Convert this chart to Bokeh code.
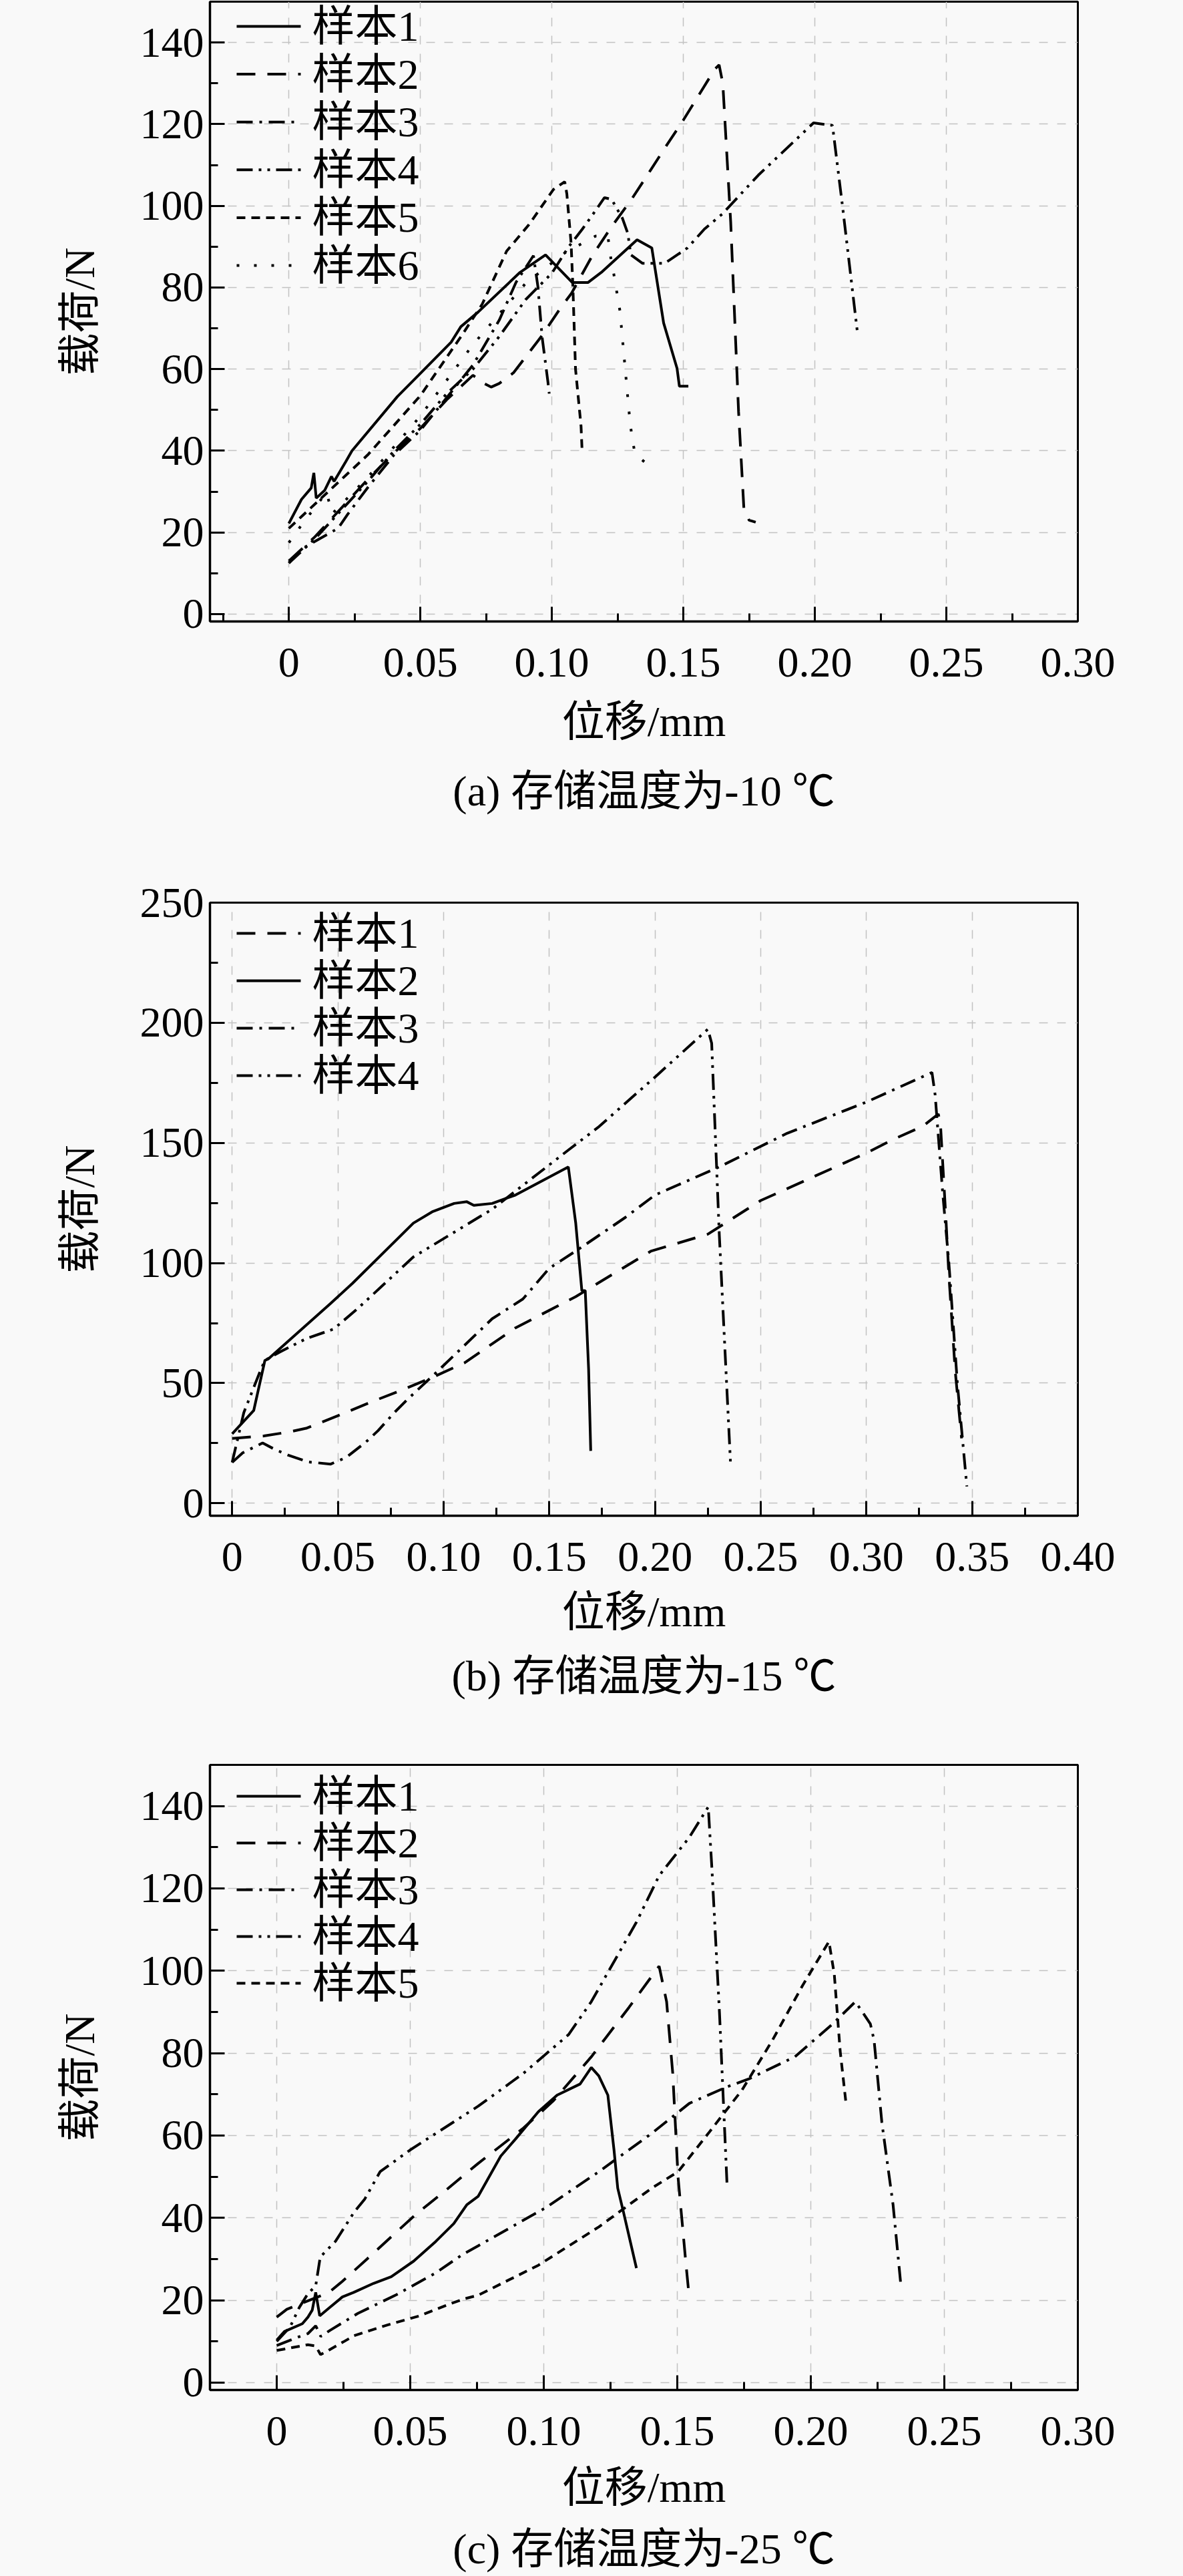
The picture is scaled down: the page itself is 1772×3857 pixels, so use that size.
from bokeh.plotting import figure
from bokeh.layouts import column
from bokeh.models import FixedTicker, CustomJSTickFormatter, Range1d, Label, Title
from bokeh.embed import file_html
from bokeh.resources import INLINE

FONT = "Liberation Serif, Noto Sans CJK SC"
BG = "#f9f9f9"
FS = "64px"

# ---------------- panel (a) : -10 C ----------------
a_names = ["样本1", "样本2", "样本3", "样本4", "样本5", "样本6"]
a_s1_x = [0, 0.0048, 0.0085, 0.0095, 0.0104, 0.0136, 0.0162, 0.0172, 0.0216, 0.024, 0.0413, 0.0493, 0.0617, 0.0654, 0.0720, 0.0879, 0.0976, 0.1078, 0.1137, 0.1192, 0.1324, 0.1380, 0.1425, 0.1476, 0.1485, 0.1519]
a_s1_y = [22.2, 28.1, 30.9, 34.6, 28.4, 30.3, 33.7, 32.5, 37.3, 40.0, 53.3, 58.5, 66.6, 70.4, 74.0, 83.7, 88.0, 81.2, 81.2, 83.9, 91.7, 89.7, 71.3, 60.2, 55.8, 55.8]
a_s2_x = [0, 0.010, 0.020, 0.030, 0.040, 0.050, 0.060, 0.070, 0.0745, 0.0769, 0.0800, 0.0854, 0.0960, 0.1031, 0.1075, 0.1154, 0.1226, 0.1300, 0.1366, 0.1434, 0.1500, 0.1620, 0.1636, 0.1650, 0.1680, 0.1710, 0.1730, 0.1750, 0.1775]
a_s2_y = [13.0, 19.0, 26.0, 33.0, 39.5, 45.5, 52.5, 58.5, 56.4, 55.6, 56.5, 59.1, 68.0, 74.8, 78.6, 87.8, 94.8, 101.3, 107.8, 114.6, 121.0, 133.5, 134.5, 130.0, 96.0, 49.5, 26.0, 23.0, 22.5]
a_s3_x = [0, 0.005, 0.0187, 0.0223, 0.030, 0.040, 0.050, 0.060, 0.070, 0.080, 0.0864, 0.0930, 0.0947, 0.0963, 0.0985, 0.0990]
a_s3_y = [12.5, 16.0, 21.0, 24.4, 31.0, 39.0, 45.0, 53.0, 61.0, 72.0, 81.3, 87.8, 80.2, 67.8, 56.9, 54.0]
a_s4_x = [0, 0.010, 0.020, 0.030, 0.040, 0.050, 0.060, 0.070, 0.080, 0.090, 0.1000, 0.1061, 0.1116, 0.1158, 0.1200, 0.1227, 0.1268, 0.1289, 0.1300, 0.1345, 0.1429, 0.1516, 0.1580, 0.1648, 0.1785, 0.1995, 0.2067, 0.2105, 0.2162]
a_s4_y = [12.5, 18.5, 25.5, 32.5, 40.0, 46.5, 54.0, 60.0, 68.0, 77.0, 83.5, 89.7, 94.3, 98.1, 102.0, 101.6, 97.0, 93.2, 88.0, 85.9, 85.9, 89.7, 94.3, 98.0, 107.5, 120.3, 119.7, 100.0, 68.9]
a_s5_x = [0, 0.005, 0.015, 0.030, 0.050, 0.066, 0.0735, 0.0828, 0.0913, 0.1006, 0.1049, 0.1057, 0.1073, 0.1080, 0.1090, 0.1111, 0.1115]
a_s5_y = [21.0, 24.0, 30.0, 39.0, 53.5, 68.5, 75.9, 88.9, 95.4, 104.0, 105.9, 102.9, 91.0, 80.2, 60.0, 46.0, 40.0]
a_s6_x = [0, 0.005, 0.0143, 0.0165, 0.030, 0.050, 0.070, 0.090, 0.1050, 0.1166, 0.1213, 0.1222, 0.1235, 0.1259, 0.1298, 0.1315, 0.1335, 0.1376]
a_s6_y = [17.5, 22.0, 29.8, 24.6, 33.5, 48.5, 66.0, 81.0, 88.5, 92.6, 92.6, 88.0, 83.5, 74.2, 46.4, 39.5, 38.2, 36.0]
a_xticks = [0, 0.05, 0.10, 0.15, 0.20, 0.25, 0.30]
a_xlabels = ["0", "0.05", "0.10", "0.15", "0.20", "0.25", "0.30"]
a_yticks = [0, 20, 40, 60, 80, 100, 120, 140]
a_ylabels = ["0", "20", "40", "60", "80", "100", "120", "140"]
a_caption = "(a) 存储温度为-10 ℃"

# ---------------- panel (b) : -15 C ----------------
b_names = ["样本1", "样本2", "样本3", "样本4"]
b_s1_x = [0, 0.015, 0.0276, 0.035, 0.0497, 0.065, 0.080, 0.095, 0.1100, 0.1340, 0.1625, 0.1980, 0.2250, 0.2500, 0.3000, 0.3126, 0.3268, 0.3340, 0.3350, 0.3375, 0.3390, 0.3420, 0.3450]
b_s1_y = [27.0, 28.0, 29.8, 31.2, 36.3, 41.9, 47.0, 52.5, 58.5, 73.0, 86.0, 104.9, 112.0, 126.0, 145.8, 151.4, 157.0, 162.0, 158.0, 120.0, 95.0, 55.0, 27.0]
b_s2_x = [0, 0.0102, 0.0129, 0.0155, 0.0170, 0.0466, 0.0570, 0.0857, 0.0946, 0.1050, 0.1110, 0.1143, 0.1230, 0.1340, 0.1590, 0.1625, 0.1654, 0.1670, 0.1686, 0.1696]
b_s2_y = [28.9, 38.6, 49.3, 59.5, 60.0, 83.2, 91.6, 116.6, 121.3, 124.8, 125.5, 124.0, 124.8, 128.3, 140.0, 116.6, 88.5, 88.5, 55.7, 21.8]
b_s3_x = [0, 0.005, 0.0144, 0.020, 0.0266, 0.036, 0.0466, 0.054, 0.0634, 0.069, 0.0771, 0.0824, 0.0971, 0.1230, 0.1375, 0.1500, 0.1660, 0.1860, 0.2000, 0.2304, 0.2625, 0.3000, 0.3310, 0.3325, 0.3360, 0.3390, 0.3430, 0.3475]
b_s3_y = [17.0, 21.0, 25.1, 22.5, 20.0, 17.2, 16.3, 19.1, 25.6, 30.2, 38.1, 42.8, 54.9, 76.8, 85.0, 97.8, 107.0, 119.0, 128.3, 140.0, 154.0, 167.0, 179.3, 170.0, 130.0, 100.0, 50.0, 7.0]
b_s4_x = [0, 0.0055, 0.0134, 0.0155, 0.0222, 0.0350, 0.0480, 0.0592, 0.0857, 0.1230, 0.1590, 0.1730, 0.2000, 0.2250, 0.2268, 0.2304, 0.2357]
b_s4_y = [17.0, 37.7, 55.3, 59.5, 62.8, 68.5, 72.5, 80.9, 102.5, 122.4, 147.0, 156.4, 177.4, 197.3, 191.5, 112.0, 17.0]
b_xticks = [0, 0.05, 0.10, 0.15, 0.20, 0.25, 0.30, 0.35, 0.40]
b_xlabels = ["0", "0.05", "0.10", "0.15", "0.20", "0.25", "0.30", "0.35", "0.40"]
b_yticks = [0, 50, 100, 150, 200, 250]
b_ylabels = ["0", "50", "100", "150", "200", "250"]
b_caption = "(b) 存储温度为-15 ℃"

# ---------------- panel (c) : -25 C ----------------
c_names = ["样本1", "样本2", "样本3", "样本4", "样本5"]
c_s1_x = [0, 0.0029, 0.0096, 0.0117, 0.0133, 0.0146, 0.0161, 0.0196, 0.0246, 0.0288, 0.0363, 0.0429, 0.0513, 0.0596, 0.0663, 0.0712, 0.0754, 0.0839, 0.0895, 0.0980, 0.1050, 0.1136, 0.1178, 0.1206, 0.1240, 0.1263, 0.1277, 0.1297, 0.1347]
c_s1_y = [10.3, 12.4, 14.3, 15.9, 17.6, 21.9, 16.2, 18.1, 20.8, 21.9, 24.1, 25.7, 29.5, 34.3, 38.6, 43.2, 45.2, 55.0, 59.2, 65.8, 69.8, 72.5, 76.5, 74.5, 69.8, 56.5, 47.2, 41.8, 27.8]
c_s2_x = [0, 0.0038, 0.0196, 0.0246, 0.0338, 0.0429, 0.0520, 0.0620, 0.0754, 0.0924, 0.1037, 0.1178, 0.1319, 0.1432, 0.1460, 0.1483, 0.1503, 0.1531, 0.1545]
c_s2_y = [15.9, 17.8, 21.9, 24.6, 30.0, 35.4, 40.8, 46.0, 53.2, 61.8, 68.5, 79.1, 91.1, 101.1, 92.5, 75.1, 49.8, 29.8, 20.5]
c_s3_x = [0, 0.007, 0.0117, 0.0146, 0.0165, 0.020, 0.0304, 0.045, 0.0592, 0.0696, 0.0754, 0.1008, 0.1206, 0.1404, 0.1545, 0.1686, 0.1770, 0.1940, 0.2082, 0.2167, 0.2223, 0.2237, 0.2266, 0.2308, 0.2336]
c_s3_y = [9.0, 10.8, 11.9, 13.8, 11.2, 12.7, 16.8, 21.4, 26.5, 31.1, 33.2, 42.5, 51.2, 60.5, 67.8, 71.8, 73.8, 79.1, 87.1, 92.5, 87.1, 83.1, 63.2, 43.2, 24.5]
c_s4_x = [0, 0.005, 0.0085, 0.0117, 0.0146, 0.0163, 0.0220, 0.0290, 0.0330, 0.0387, 0.0500, 0.0754, 0.0924, 0.1093, 0.1178, 0.1347, 0.1432, 0.1545, 0.1616, 0.1630, 0.1658, 0.1686]
c_s4_y = [10.0, 13.5, 18.3, 21.6, 23.5, 30.5, 34.3, 41.4, 44.6, 51.2, 56.5, 67.1, 75.1, 84.5, 92.5, 111.8, 123.1, 132.4, 139.8, 124.4, 89.8, 48.5]
c_s5_x = [0, 0.0117, 0.0146, 0.0164, 0.0188, 0.0250, 0.0290, 0.0415, 0.0535, 0.0640, 0.0700, 0.0754, 0.0980, 0.1206, 0.1404, 0.1503, 0.1616, 0.1743, 0.1856, 0.1969, 0.2068, 0.2088, 0.2110, 0.2133]
c_s5_y = [7.8, 9.2, 8.9, 6.8, 7.6, 9.9, 11.4, 14.0, 16.2, 18.9, 20.3, 21.2, 28.5, 37.8, 47.2, 51.2, 60.5, 71.1, 83.1, 96.4, 107.1, 99.1, 80.5, 67.1]
c_xticks = [0, 0.05, 0.10, 0.15, 0.20, 0.25, 0.30]
c_xlabels = ["0", "0.05", "0.10", "0.15", "0.20", "0.25", "0.30"]
c_yticks = [0, 20, 40, 60, 80, 100, 120, 140]
c_ylabels = ["0", "20", "40", "60", "80", "100", "120", "140"]
c_caption = "(c) 存储温度为-25 ℃"

X_LABEL = "位移/mm"
Y_LABEL = "载荷/N"

# line styles
SOLID = "solid"
LONG = "28 18"
DASHDOT = "24 10 4 10"
DASHDOTDOT = "24 9 4 9 4 9"
SHORT = "13 9"
DOT = "4 22"

FMT_CODE = """
let best = 0, bd = 1e9;
for (let i = 0; i < vals.length; i++) {
  const d = Math.abs(vals[i] - tick);
  if (d < bd) { bd = d; best = i; }
}
return labels[best];
"""

FRAME_W = 1300


def minor_between(ticks, lo, hi):
    step = ticks[1] - ticks[0]
    cand = [ticks[0] - step / 2] + [t + step / 2 for t in ticks]
    return [m for m in cand if lo < m < hi - 1e-9]


def make_panel(series, styles, names, xr, yr, xticks, xlabels, yticks, ylabels,
               caption, top, frame_h, bottom, leg_first, leg_step, cap_standoff,
               xl_standoff):
    height = top + frame_h + bottom
    p = figure(width=1740, height=height, output_backend="svg", toolbar_location=None,
               x_range=Range1d(*xr), y_range=Range1d(*yr),
               min_border_left=314, min_border_right=126,
               min_border_top=top, min_border_bottom=bottom)
    p.background_fill_color = BG
    p.border_fill_color = BG
    p.outline_line_color = "black"
    p.outline_line_width = 3
    p.outline_line_alpha = 1

    # pixel (relative to frame top-left) -> data, for the legend layout
    def px_x(px):
        return xr[0] + px / FRAME_W * (xr[1] - xr[0])

    def px_y(py):
        return yr[1] - py / frame_h * (yr[1] - yr[0])

    for (xs, ys), dash in zip(series, styles):
        p.line(xs, ys, line_color="black", line_width=4, line_dash=dash)

    p.xaxis.ticker = FixedTicker(ticks=xticks, minor_ticks=minor_between(xticks, *xr))
    p.yaxis.ticker = FixedTicker(ticks=yticks, minor_ticks=minor_between(yticks, *yr))
    p.xaxis.formatter = CustomJSTickFormatter(args=dict(vals=xticks, labels=xlabels), code=FMT_CODE)
    p.yaxis.formatter = CustomJSTickFormatter(args=dict(vals=yticks, labels=ylabels), code=FMT_CODE)

    for ax in (p.xaxis[0], p.yaxis[0]):
        ax.axis_line_width = 3.5
        ax.axis_line_color = "black"
        ax.major_tick_in = 22
        ax.major_tick_out = 0
        ax.minor_tick_in = 12
        ax.minor_tick_out = 0
        ax.major_tick_line_width = 3
        ax.minor_tick_line_width = 3
        ax.major_tick_line_color = "black"
        ax.minor_tick_line_color = "black"
        ax.major_label_text_font = FONT
        ax.major_label_text_font_size = FS
        ax.major_label_text_color = "black"
        ax.axis_label_text_font = FONT
        ax.axis_label_text_font_size = FS
        ax.axis_label_text_font_style = "normal"
        ax.axis_label_text_color = "black"

    p.xaxis.axis_label = X_LABEL
    p.yaxis.axis_label = Y_LABEL
    p.xaxis.major_label_standoff = 40
    p.xaxis.axis_label_standoff = xl_standoff
    p.yaxis.major_label_standoff = 9
    p.yaxis.axis_label_standoff = 52

    p.grid.grid_line_color = "#c2c2c2"
    p.grid.grid_line_width = 1.5
    p.grid.grid_line_dash = "13 14"

    # legend (drawn by hand so the rows keep the reference spacing)
    n = len(names)
    last = leg_first + (n - 1) * leg_step
    p.quad(left=[px_x(3)], right=[px_x(330)], top=[px_y(3)], bottom=[px_y(last + 36)],
           fill_color=BG, line_color=None, level="underlay")
    for i, (name, dash) in enumerate(zip(names, styles)):
        cy = px_y(leg_first + i * leg_step)
        p.line([px_x(40), px_x(136)], [cy, cy], line_color="black", line_width=4,
               line_dash=dash)
        p.add_layout(Label(x=px_x(153), y=cy, text=name, text_align="left",
                           text_baseline="middle", text_font=FONT, text_font_size=FS,
                           text_color="black"))

    t = Title(text=caption, align="center", text_font=FONT, text_font_size=FS,
              text_font_style="normal", text_color="black", standoff=cap_standoff)
    p.add_layout(t, "below")
    return p


# page layout (px): frame a 10..938, frame b 1359..2277, frame c 2650..3586
pa = make_panel([(a_s1_x, a_s1_y), (a_s2_x, a_s2_y), (a_s3_x, a_s3_y), (a_s4_x, a_s4_y),
                 (a_s5_x, a_s5_y), (a_s6_x, a_s6_y)],
                [SOLID, LONG, DASHDOT, DASHDOTDOT, SHORT, DOT], a_names,
                (-0.03, 0.30), (-1.8, 150), a_xticks, a_xlabels, a_yticks, a_ylabels,
                a_caption, top=2, frame_h=928, bottom=345,
                leg_first=37, leg_step=71.6, cap_standoff=56, xl_standoff=29)

pb = make_panel([(b_s1_x, b_s1_y), (b_s2_x, b_s2_y), (b_s3_x, b_s3_y), (b_s4_x, b_s4_y)],
                [LONG, SOLID, DASHDOT, DASHDOTDOT], b_names,
                (-0.0105, 0.40), (-5.2, 250), b_xticks, b_xlabels, b_yticks, b_ylabels,
                b_caption, top=76, frame_h=918, bottom=330,
                leg_first=46, leg_step=71, cap_standoff=40, xl_standoff=23)

pc = make_panel([(c_s1_x, c_s1_y), (c_s2_x, c_s2_y), (c_s3_x, c_s3_y), (c_s4_x, c_s4_y),
                 (c_s5_x, c_s5_y)],
                [SOLID, LONG, DASHDOT, DASHDOTDOT, SHORT], c_names,
                (-0.025, 0.30), (-1.8, 150), c_xticks, c_xlabels, c_yticks, c_ylabels,
                c_caption, top=43, frame_h=936, bottom=310,
                leg_first=47, leg_step=70, cap_standoff=33, xl_standoff=25)

layout = column(pa, pb, pc, spacing=0)

PAGE_STYLE = "{% block postamble %}<style>html, body { background: #f9f9f9; }</style>{% endblock %}"
try:
    html = file_html(layout, INLINE, template=PAGE_STYLE)
except Exception:
    html = file_html(layout, INLINE)
open("out.html", "w").write(html)
